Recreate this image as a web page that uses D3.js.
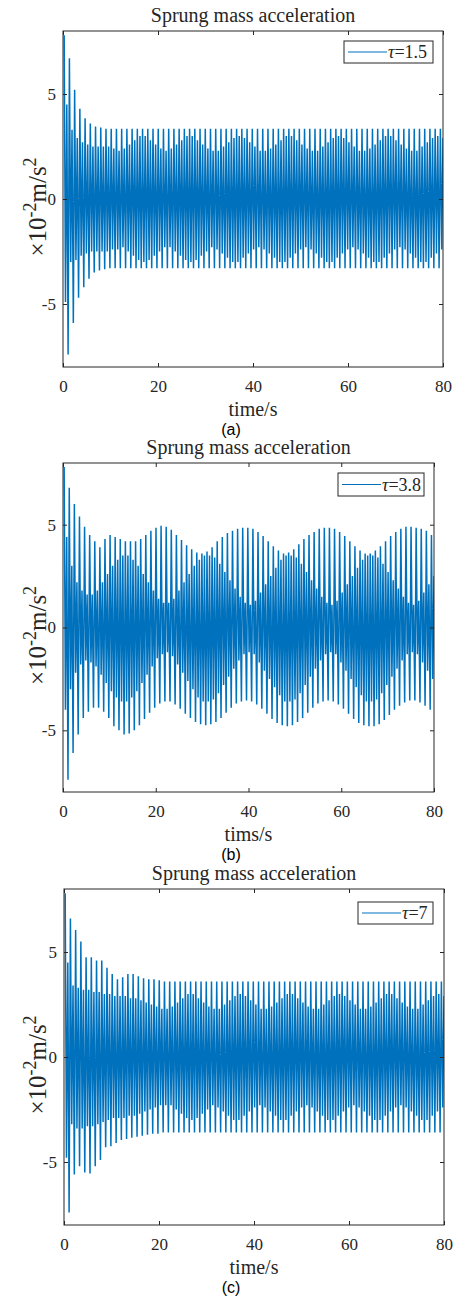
<!DOCTYPE html>
<html>
<head>
<meta charset="utf-8">
<script src="https://cdn.jsdelivr.net/npm/d3@7"></script>
<style>
body{margin:0;background:#fff;}
</style>
</head>
<body>
<script>
var tStart = 0.25, tStep = 1.1;
var xTicks = [0, 20, 40, 60, 80];
var yTicks = [-5, 0, 5];

// (a) tau = 1.5 : spike tops / bottoms and the inner band, one value per stroke
var aTop = [7.8,6.7,5.2,4.3,3.85,3.6,3.45,3.4,3.35,3.35,
  3.35,3.35,3.35,3.35,3.35,3.35,3.35,3.35,3.35,3.35,
  3.35,3.35,3.35,3.35,3.35,3.35,3.35,3.35,3.35,3.35,
  3.35,3.35,3.35,3.35,3.35,3.35,3.35,3.35,3.35,3.35,
  3.35,3.35,3.35,3.35,3.35,3.35,3.35,3.35,3.35,3.35,
  3.35,3.35,3.35,3.35,3.35,3.35,3.35,3.35,3.35,3.35,
  3.35,3.35,3.35,3.35,3.35,3.35,3.35,3.35,3.35,3.35,
  3.35,3.35,3.35];
var aBot = [-7.4,-5.9,-4.7,-4.2,-3.8,-3.5,-3.4,-3.35,-3.3,-3.3,
  -3.3,-3.3,-3.3,-3.3,-3.3,-3.3,-3.3,-3.3,-3.3,-3.3,
  -3.3,-3.3,-3.3,-3.3,-3.3,-3.3,-3.3,-3.3,-3.3,-3.3,
  -3.3,-3.3,-3.3,-3.3,-3.3,-3.3,-3.3,-3.3,-3.3,-3.3,
  -3.3,-3.3,-3.3,-3.3,-3.3,-3.3,-3.3,-3.3,-3.3,-3.3,
  -3.3,-3.3,-3.3,-3.3,-3.3,-3.3,-3.3,-3.3,-3.3,-3.3,
  -3.3,-3.3,-3.3,-3.3,-3.3,-3.3,-3.3,-3.3,-3.3,-3.3,
  -3.3,-3.3,-3.3];
var aInTop = [4.5,3.3,2.9,2.7,2.6,2.5,2.5,2.5,2.5,2.4,
  2.3,2.4,2.6,2.8,3.0,3.0,2.8,2.6,2.4,2.3,
  2.4,2.6,2.8,3.0,3.0,2.8,2.6,2.4,2.3,2.3,
  2.5,2.7,2.9,3.0,2.9,2.7,2.5,2.3,2.3,2.4,
  2.6,2.8,3.0,3.0,2.8,2.6,2.4,2.3,2.3,2.5,
  2.7,2.9,3.0,2.9,2.7,2.5,2.3,2.3,2.4,2.6,
  2.8,3.0,3.0,2.8,2.6,2.4,2.3,2.3,2.5,2.7,
  2.9,3.0,2.9];
var aInBot = [-4.9,-3.0,-2.9,-2.7,-2.6,-2.5,-2.5,-2.5,-2.5,-2.4,
  -2.4,-2.3,-2.5,-2.7,-2.9,-3.0,-2.9,-2.7,-2.5,-2.3,
  -2.3,-2.5,-2.7,-2.9,-3.0,-2.9,-2.7,-2.5,-2.3,-2.4,
  -2.6,-2.8,-3.0,-3.0,-2.8,-2.6,-2.4,-2.3,-2.4,-2.6,
  -2.8,-3.0,-3.0,-2.8,-2.6,-2.4,-2.3,-2.4,-2.6,-2.8,
  -3.0,-3.0,-2.8,-2.6,-2.4,-2.3,-2.4,-2.6,-2.8,-3.0,
  -3.0,-2.8,-2.6,-2.4,-2.3,-2.4,-2.6,-2.8,-3.0,-3.0,
  -2.8,-2.6,-2.4];

// (b) tau = 3.8
var bTop = [7.8,6.8,6.0,5.4,4.9,4.5,4.2,3.9,4.3,4.5,
  4.4,4.3,4.2,4.2,4.2,4.3,4.5,4.7,4.85,4.95,
  4.9,4.75,4.5,4.25,4.0,3.8,3.65,3.6,3.7,3.9,
  4.2,4.4,4.6,4.7,4.8,4.85,4.85,4.8,4.65,4.45,
  4.2,3.95,3.75,3.6,3.65,3.8,4.05,4.3,4.5,4.65,
  4.8,4.85,4.85,4.8,4.65,4.45,4.2,3.95,3.75,3.6,
  3.6,3.75,3.95,4.2,4.45,4.65,4.8,4.9,4.9,4.85,
  4.8,4.7,4.5];
var bBot = [-7.4,-6.1,-5.2,-4.4,-4.1,-3.9,-3.9,-4.1,-4.4,-4.8,
  -5.0,-5.2,-5.15,-5.0,-4.75,-4.45,-4.15,-3.9,-3.7,-3.6,
  -3.6,-3.75,-3.95,-4.2,-4.4,-4.6,-4.7,-4.75,-4.7,-4.6,
  -4.4,-4.15,-3.9,-3.7,-3.6,-3.55,-3.6,-3.75,-3.95,-4.2,
  -4.45,-4.65,-4.75,-4.8,-4.75,-4.6,-4.4,-4.15,-3.9,-3.7,
  -3.6,-3.55,-3.6,-3.75,-3.95,-4.2,-4.45,-4.65,-4.75,-4.8,
  -4.8,-4.7,-4.5,-4.25,-4.0,-3.8,-3.65,-3.55,-3.55,-3.65,
  -3.8,-4.0,-4.25];
var bInTop = [4.4,3.0,2.2,1.8,1.6,1.6,1.8,2.2,2.6,3.0,
  3.3,3.5,3.5,3.3,3.0,2.6,2.2,1.8,1.4,1.2,
  1.2,1.4,1.8,2.2,2.6,3.0,3.3,3.5,3.5,3.4,
  3.1,2.7,2.3,1.9,1.5,1.2,1.1,1.3,1.7,2.1,
  2.5,2.9,3.3,3.5,3.5,3.4,3.1,2.7,2.3,1.9,
  1.5,1.2,1.1,1.3,1.7,2.1,2.5,2.9,3.3,3.5,
  3.5,3.4,3.1,2.7,2.3,1.9,1.5,1.2,1.1,1.3,
  1.7,2.1,2.5];
var bInBot = [-4.0,-3.0,-2.2,-1.8,-1.6,-1.7,-1.9,-2.3,-2.7,-3.1,
  -3.4,-3.6,-3.6,-3.4,-3.1,-2.7,-2.3,-1.9,-1.5,-1.3,
  -1.2,-1.4,-1.8,-2.2,-2.6,-3.0,-3.4,-3.6,-3.6,-3.5,
  -3.2,-2.8,-2.4,-2.0,-1.6,-1.3,-1.2,-1.3,-1.7,-2.1,
  -2.5,-2.9,-3.3,-3.6,-3.6,-3.5,-3.2,-2.8,-2.4,-2.0,
  -1.6,-1.3,-1.2,-1.3,-1.7,-2.1,-2.5,-2.9,-3.3,-3.6,
  -3.6,-3.5,-3.2,-2.8,-2.4,-2.0,-1.6,-1.3,-1.2,-1.3,
  -1.7,-2.1,-2.5];

// (c) tau = 7
var cTop = [7.8,6.6,6.05,5.5,4.75,4.75,4.6,4.6,4.25,3.95,
  3.7,3.8,3.95,3.95,3.85,3.75,3.7,3.7,3.65,3.6,
  3.6,3.6,3.6,3.6,3.6,3.6,3.6,3.6,3.6,3.6,
  3.6,3.6,3.6,3.6,3.6,3.6,3.6,3.6,3.6,3.6,
  3.6,3.6,3.6,3.6,3.6,3.6,3.6,3.6,3.6,3.6,
  3.6,3.6,3.6,3.6,3.6,3.6,3.6,3.6,3.6,3.6,
  3.6,3.6,3.6,3.6,3.6,3.6,3.6,3.6,3.6,3.6,
  3.6,3.6,3.6];
var cBot = [-7.4,-5.6,-5.2,-5.5,-5.55,-5.2,-4.9,-4.3,-4.25,-4.1,
  -3.95,-3.9,-3.85,-3.8,-3.75,-3.7,-3.65,-3.65,-3.6,-3.6,
  -3.6,-3.6,-3.6,-3.6,-3.6,-3.6,-3.6,-3.6,-3.6,-3.6,
  -3.6,-3.6,-3.6,-3.6,-3.6,-3.6,-3.6,-3.6,-3.6,-3.6,
  -3.6,-3.6,-3.6,-3.6,-3.6,-3.6,-3.6,-3.6,-3.6,-3.6,
  -3.6,-3.6,-3.6,-3.6,-3.6,-3.6,-3.6,-3.6,-3.6,-3.6,
  -3.6,-3.6,-3.6,-3.6,-3.6,-3.6,-3.6,-3.6,-3.6,-3.6,
  -3.6,-3.6,-3.6];
var cInTop = [4.5,3.4,3.3,3.2,3.2,3.1,3.1,3.0,3.0,2.9,
  2.9,2.9,2.8,2.8,2.7,2.6,2.5,2.4,2.3,2.3,
  2.4,2.6,2.8,3.0,3.0,2.8,2.6,2.4,2.3,2.3,
  2.5,2.7,2.9,3.0,2.9,2.7,2.5,2.3,2.3,2.4,
  2.6,2.8,3.0,3.0,2.8,2.6,2.4,2.3,2.3,2.5,
  2.7,2.9,3.0,2.9,2.7,2.5,2.3,2.3,2.4,2.6,
  2.8,3.0,3.0,2.8,2.6,2.4,2.3,2.3,2.5,2.7,
  2.9,3.0,2.9];
var cInBot = [-4.8,-3.2,-3.4,-3.4,-3.3,-3.3,-3.2,-3.1,-3.0,-2.9,
  -2.9,-2.9,-2.8,-2.8,-2.7,-2.6,-2.5,-2.4,-2.3,-2.3,
  -2.3,-2.5,-2.7,-2.9,-3.0,-2.9,-2.7,-2.5,-2.3,-2.4,
  -2.6,-2.8,-3.0,-3.0,-2.8,-2.6,-2.4,-2.3,-2.4,-2.6,
  -2.8,-3.0,-3.0,-2.8,-2.6,-2.4,-2.3,-2.4,-2.6,-2.8,
  -3.0,-3.0,-2.8,-2.6,-2.4,-2.3,-2.4,-2.6,-2.8,-3.0,
  -3.0,-2.8,-2.6,-2.4,-2.3,-2.4,-2.6,-2.8,-3.0,-3.0,
  -2.8,-2.6,-2.4];

var tauLabels = ["1.5", "3.8", "7"];
var xLabels = ["time/s", "tims/s", "time/s"];
var tags = ["(a)", "(b)", "(c)"];

var panels = [
  {top:aTop, bot:aBot, inTop:aInTop, inBot:aInBot, x0:63, x1:443, y0:31, y1:367, leg:[344,41,433,63]},
  {top:bTop, bot:bBot, inTop:bInTop, inBot:bInBot, x0:63, x1:434, y0:463, y1:792, leg:[338,473,424,496]},
  {top:cTop, bot:cBot, inTop:cInTop, inBot:cInBot, x0:64, x1:444, y0:889, y1:1225, leg:[358,902,433,924]}
];

var blue = "#0072BD";
var axisCol = "#262626";
var serif = "'Liberation Serif', 'Times New Roman', serif";

var svg = d3.select("body").append("svg")
  .attr("width", 453)
  .attr("height", 1299);

panels.forEach(function(p, i) {
  var xScale = d3.scaleLinear().domain([0, 80]).range([p.x0, p.x1]);
  var yScale = d3.scaleLinear().domain([-8, 8]).range([p.y1, p.y0]);

  // turning points of the trace, one group of four per stroke
  var pts = [];
  p.top.forEach(function(v, k) {
    var t = tStart + k * tStep;
    pts.push([t, v]);
    pts.push([t + tStep * 0.25, p.inBot[k]]);
    pts.push([t + tStep * 0.5, p.inTop[k]]);
    pts.push([t + tStep * 0.75, p.bot[k]]);
  });

  var clipId = "clip" + i;
  svg.append("clipPath").attr("id", clipId)
    .append("rect")
    .attr("x", p.x0).attr("y", p.y0)
    .attr("width", p.x1 - p.x0).attr("height", p.y1 - p.y0);

  var line = d3.line()
    .x(function(d) { return xScale(d[0]); })
    .y(function(d) { return yScale(d[1]); });

  svg.append("path")
    .datum(pts)
    .attr("clip-path", "url(#" + clipId + ")")
    .attr("fill", "none")
    .attr("stroke", blue)
    .attr("stroke-width", 1.5)
    .attr("stroke-linejoin", "bevel")
    .attr("d", line);

  // axes, ticks pointing inward on all four sides
  var g = svg.append("g");
  g.append("g")
    .attr("transform", "translate(0," + p.y1 + ")")
    .call(d3.axisBottom(xScale).tickValues(xTicks).tickSize(-4).tickPadding(13));
  g.append("g")
    .attr("transform", "translate(0," + p.y0 + ")")
    .call(d3.axisTop(xScale).tickValues(xTicks).tickSize(-4).tickFormat(""));
  g.append("g")
    .attr("transform", "translate(" + p.x0 + ",0)")
    .call(d3.axisLeft(yScale).tickValues(yTicks).tickSize(-4).tickPadding(7)
      .tickFormat(function(d){ return d < 0 ? "-" + Math.abs(d) : d; }));
  g.append("g")
    .attr("transform", "translate(" + p.x1 + ",0)")
    .call(d3.axisRight(yScale).tickValues(yTicks).tickSize(-4).tickFormat(""));
  g.selectAll(".domain").remove();
  g.selectAll(".tick line").attr("stroke", axisCol);
  g.selectAll(".tick text")
    .style("font-family", serif)
    .style("font-size", "17px")
    .style("fill", axisCol);

  svg.append("rect")
    .attr("x", p.x0).attr("y", p.y0)
    .attr("width", p.x1 - p.x0).attr("height", p.y1 - p.y0)
    .attr("fill", "none")
    .attr("stroke", axisCol)
    .attr("stroke-width", 1);

  var cx = (p.x0 + p.x1) / 2;
  svg.append("text")
    .attr("x", cx).attr("y", p.y0 - 9)
    .attr("text-anchor", "middle")
    .style("font-family", serif)
    .style("font-size", "20px")
    .style("fill", axisCol)
    .text("Sprung mass acceleration");

  svg.append("text")
    .attr("x", cx).attr("y", p.y1 + 49)
    .attr("text-anchor", "middle")
    .style("font-family", serif)
    .style("font-size", "20px")
    .style("fill", axisCol)
    .text(xLabels[i]);

  svg.append("text")
    .attr("x", 231).attr("y", p.y1 + 68)
    .attr("text-anchor", "middle")
    .style("font-family", "'Liberation Sans', Arial, sans-serif")
    .style("font-size", "16px")
    .style("fill", "#000")
    .text(tags[i]);

  // y label: x10^-2 m/s^2
  var yl = svg.append("text")
    .attr("transform", "translate(46," + ((p.y0 + p.y1) / 2 + 8) + ") rotate(-90)")
    .attr("text-anchor", "middle")
    .style("font-family", serif)
    .style("font-size", "25px")
    .style("fill", axisCol);
  yl.append("tspan").text("\u00d710");
  yl.append("tspan").attr("dy", -10).style("font-size", "18px").text("-2");
  yl.append("tspan").attr("dy", 10).text("m/s");
  yl.append("tspan").attr("dy", -10).style("font-size", "18px").text("2");

  // legend
  var L = p.leg;
  svg.append("rect")
    .attr("x", L[0]).attr("y", L[1])
    .attr("width", L[2] - L[0]).attr("height", L[3] - L[1])
    .attr("fill", "#fff")
    .attr("stroke", axisCol)
    .attr("stroke-width", 1);
  var ly = (L[1] + L[3]) / 2;
  svg.append("line")
    .attr("x1", L[0] + 4).attr("x2", L[0] + 43)
    .attr("y1", ly).attr("y2", ly)
    .attr("stroke", blue)
    .attr("stroke-width", 1.2);
  var lt = svg.append("text")
    .attr("x", L[0] + 44).attr("y", ly + 6)
    .style("font-family", serif)
    .style("font-size", "18px")
    .style("fill", axisCol);
  lt.append("tspan").style("font-style", "italic").text("\u03c4");
  lt.append("tspan").text("=" + tauLabels[i]);
});
</script>
</body>
</html>
